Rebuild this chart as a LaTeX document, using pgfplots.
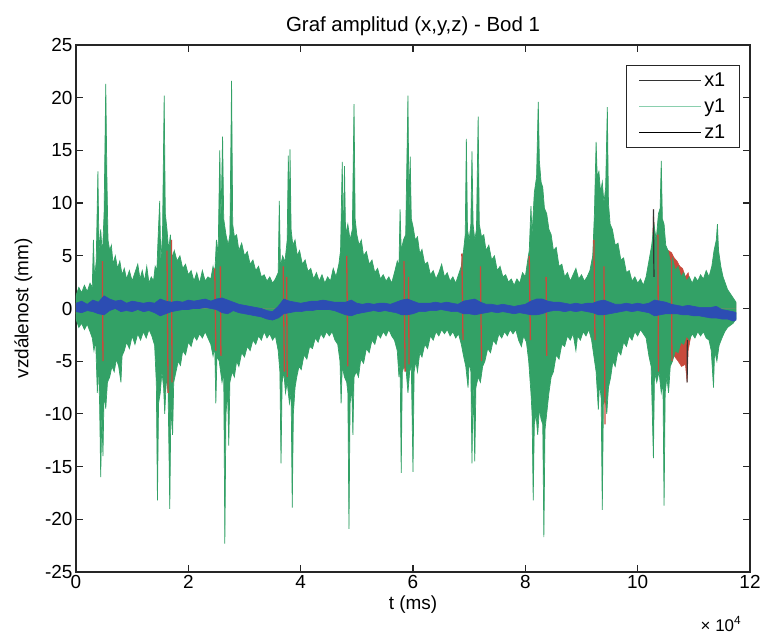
\documentclass[border=0pt]{standalone}
\usepackage{fontspec}
\setmainfont{Liberation Sans}
\usepackage{pgfplots}
\pgfplotsset{compat=1.18}
\definecolor{cg}{HTML}{33A166}
\definecolor{cr}{HTML}{C94A3C}
\definecolor{cb}{HTML}{2C4DB3}
\definecolor{cgl}{HTML}{8ACFAE}
\begin{document}
\begin{tikzpicture}
\begin{axis}[
  scale only axis, width=674bp, height=527bp,
  xmin=0, xmax=12, ymin=-25, ymax=25,
  xtick={0,2,...,12}, ytick={-25,-20,...,25},
  tick align=inside, major tick length=7bp,
  axis line style={line width=1.2bp, black!85},
  every tick/.style={black!85, line width=1.2bp},
  /pgf/number format/assume math mode=true,
  tick label style={font=\fontsize{19}{22}\selectfont},
  label style={font=\fontsize{19}{22}\selectfont},
  ylabel style={yshift=6bp},
  title style={font=\fontsize{20.5}{24}\selectfont},
  title={Graf amplitud (x,y,z) - Bod 1},
  xlabel={t (ms)}, ylabel={vzdálenost (mm)},
  legend style={at={(0.985,0.962)}, anchor=north east, font=\fontsize{20}{23}\selectfont, draw=black!85, line width=1.2bp, row sep=7bp, inner xsep=12bp, inner ysep=5bp},
  legend cell align=left,
  legend image code/.code={\draw[#1] (0bp,0bp) -- (62bp,0bp);},
  unbounded coords=jump,
]
\coordinate (sw) at (rel axis cs:0,0);
\coordinate (ne) at (rel axis cs:1,1);
\coordinate (se) at (rel axis cs:1,0);
% x1 (red), positive side
\addplot[draw=cr, fill=cr, line width=0.5bp, forget plot] coordinates {
(0,0)(0,0.5)(0.45,1.5)(0.48,5.0)(0.5,1.5)(1.0,1.0)(1.6,1.5)(1.63,6.0)(1.66,1.5)(2.45,1.5)(2.48,3.8)(2.51,1.5)(3.65,1.5)(3.7,4.0)(3.73,1.5)(4.8,1.5)(4.83,5.0)(4.86,1.5)(5.82,1.5)(5.85,4.5)(5.88,1.5)(6.85,1.5)(6.88,5.2)(6.91,1.5)(8.05,1.5)(8.08,5.0)(8.11,1.5)(9.2,1.5)(9.23,6.5)(9.26,1.5)(10.25,2.0)(10.28,9.4)(10.31,6.0)(10.35,7.0)(10.4,5.5)(10.45,6.0)(10.5,5.0)(10.55,5.5)(10.6,5.3)(10.65,4.8)(10.7,4.5)(10.75,4.0)(10.8,3.8)(10.85,3.0)(10.9,3.4)(10.95,2.0)(11.3,1.5)(11.33,3.5)(11.36,1.5)(11.75,0.5)(11.75,0)};
% x1 (red), negative side
\addplot[draw=cr, fill=cr, line width=0.5bp, forget plot] coordinates {
(0,0)(0,-0.5)(0.4,-1.5)(0.42,-5.0)(0.45,-1.5)(1.6,-1.5)(1.65,-8.0)(1.68,-1.5)(2.55,-1.5)(2.58,-4.5)(2.61,-1.5)(3.72,-1.5)(3.75,-6.5)(3.78,-1.5)(4.85,-1.5)(4.88,-5.5)(4.91,-1.5)(5.88,-1.5)(5.91,-6.0)(5.94,-1.5)(7.18,-1.5)(7.21,-5.0)(7.24,-1.5)(8.35,-1.5)(8.38,-4.5)(8.41,-1.5)(9.38,-1.5)(9.41,-9.0)(9.44,-1.5)(10.3,-2.0)(10.33,-6.5)(10.38,-5.5)(10.45,-6.0)(10.55,-5.0)(10.65,-4.5)(10.72,-5.0)(10.78,-5.5)(10.85,-5.3)(10.88,-7.0)(10.9,-4.0)(10.95,-2.5)(11.3,-1.5)(11.33,-4.5)(11.36,-1.5)(11.75,-0.5)(11.75,0)};
% y1 (green), positive side
\addplot[draw=cg, fill=cg, line width=0.7bp, forget plot] coordinates {
(0,0)(0,1.2)(0.05,2.0)(0.1,1.5)(0.15,2.2)(0.2,1.6)(0.25,2.4)(0.29,2.0)(0.31,6.5)(0.33,2.8)(0.36,4.5)(0.39,13)(0.41,5.5)(0.44,7.5)(0.47,5)(0.5,9)(0.53,21.3)(0.55,12.5)(0.57,6.5)(0.6,5.5)(0.63,6)(0.66,4.2)(0.7,5)(0.74,3.8)(0.78,4.5)(0.82,3.2)(0.86,3.8)(0.9,2.8)(0.95,3.6)(1,2.6)(1.05,3.4)(1.1,4.2)(1.14,2.8)(1.18,3.6)(1.22,2.6)(1.26,4)(1.3,2.4)(1.34,3)(1.38,2.6)(1.41,4)(1.44,3.6)(1.46,6.5)(1.49,10.2)(1.51,4.5)(1.54,7)(1.57,20.2)(1.59,9)(1.62,7.5)(1.65,5.5)(1.68,7)(1.71,4.8)(1.75,5.5)(1.8,4.5)(1.85,5)(1.9,3.8)(1.95,4.2)(2,3.2)(2.05,3.6)(2.1,2.6)(2.15,3.4)(2.2,2.4)(2.25,3.6)(2.3,2.6)(2.35,3)(2.4,2.8)(2.44,4)(2.47,3.2)(2.5,6.5)(2.53,5)(2.56,15)(2.58,8)(2.61,16.3)(2.63,8.5)(2.67,7)(2.71,6)(2.74,7)(2.77,21.6)(2.79,8)(2.82,6.8)(2.86,7)(2.9,5.5)(2.95,6.2)(3,5)(3.05,5.4)(3.1,4.2)(3.15,4.6)(3.2,3.6)(3.25,4)(3.3,3)(3.35,3.2)(3.4,2.6)(3.45,3)(3.5,2.4)(3.55,2.8)(3.6,3.4)(3.62,10.2)(3.64,4)(3.68,5)(3.72,4.4)(3.76,6.5)(3.78,14.5)(3.8,7)(3.81,15.1)(3.83,7.5)(3.86,6)(3.9,6.5)(3.94,5)(3.98,5.5)(4.03,4.2)(4.08,4.6)(4.13,3.5)(4.18,3.8)(4.23,2.8)(4.28,3.4)(4.33,2.6)(4.38,3.2)(4.43,2.4)(4.48,3)(4.53,2.6)(4.58,3.8)(4.63,3)(4.68,4.2)(4.71,5.5)(4.74,13.9)(4.76,6)(4.78,13.5)(4.8,7)(4.84,8)(4.88,6.5)(4.92,7.5)(4.95,19.4)(4.97,8.5)(5,7)(5.04,6)(5.08,6.5)(5.12,5)(5.17,5.4)(5.22,4.2)(5.27,4.6)(5.32,3.4)(5.37,3.8)(5.42,2.8)(5.47,3.2)(5.52,2.6)(5.57,3)(5.62,2.4)(5.67,3.4)(5.72,4.5)(5.75,4)(5.77,9.4)(5.79,5.5)(5.83,6.5)(5.87,7)(5.91,20.2)(5.93,9)(5.95,14.4)(5.97,8.5)(6,7.8)(6.04,6.5)(6.08,6.8)(6.12,5.2)(6.16,5.6)(6.21,4.2)(6.26,4.4)(6.31,3.2)(6.36,3.6)(6.41,2.8)(6.46,3.4)(6.51,4.2)(6.56,3)(6.61,3.4)(6.66,2.6)(6.71,3)(6.76,2.4)(6.81,3.2)(6.86,4)(6.9,5.5)(6.93,7)(6.95,16.1)(6.97,7.5)(7,6.5)(7.03,8)(7.05,14.9)(7.07,8)(7.1,6.5)(7.13,7.5)(7.16,18.2)(7.18,8)(7.22,6.8)(7.26,7)(7.3,5.5)(7.35,6)(7.4,4.6)(7.45,5)(7.5,3.6)(7.55,4)(7.6,3)(7.65,3.2)(7.7,2.5)(7.75,2.8)(7.8,2.2)(7.85,2.8)(7.9,2.4)(7.95,3.4)(8,3)(8.04,4.5)(8.07,5.5)(8.1,9.7)(8.12,7)(8.16,11)(8.2,12.5)(8.23,19.6)(8.25,14)(8.28,12)(8.31,11.5)(8.34,9.5)(8.38,9)(8.42,7.5)(8.46,7)(8.5,5.5)(8.55,5.8)(8.6,4)(8.65,4.2)(8.7,3)(8.75,3.4)(8.8,2.6)(8.85,3.2)(8.9,3.8)(8.95,2.8)(9,3.2)(9.05,2.6)(9.1,3)(9.15,3.6)(9.2,5)(9.23,9)(9.26,15.8)(9.28,12.5)(9.31,13)(9.34,11)(9.37,12)(9.4,10)(9.43,11.5)(9.46,19.1)(9.48,10)(9.51,8)(9.55,7.5)(9.6,6)(9.65,6.2)(9.7,4.6)(9.75,4.8)(9.8,3.4)(9.85,3.6)(9.9,2.6)(9.95,3)(10,2.4)(10.05,2.8)(10.1,2.2)(10.15,3)(10.2,4.5)(10.25,6)(10.29,8)(10.33,6.5)(10.37,9)(10.4,9.5)(10.42,14)(10.44,8.5)(10.47,8)(10.5,6)(10.54,5.5)(10.58,4.5)(10.62,4.8)(10.67,3.6)(10.72,4)(10.77,3)(10.82,3.4)(10.87,2.6)(10.92,3)(10.97,2.4)(11.02,3)(11.07,2.6)(11.12,3.2)(11.17,2.8)(11.22,3.6)(11.27,3)(11.32,4)(11.36,5.5)(11.4,6.5)(11.42,8)(11.44,5.5)(11.48,4)(11.52,3)(11.56,2.4)(11.6,1.8)(11.65,1.4)(11.7,1)(11.75,0.6)(11.75,0)};
% y1 (green), negative side
\addplot[draw=cg, fill=cg, line width=0.7bp, forget plot] coordinates {
(0,0)(0,-1)(0.05,-1.8)(0.1,-1.4)(0.15,-2)(0.2,-1.5)(0.25,-2.2)(0.29,-2.8)(0.32,-4)(0.35,-3)(0.38,-8)(0.4,-5)(0.42,-9)(0.44,-16)(0.46,-10)(0.48,-14)(0.5,-8)(0.53,-9.5)(0.56,-7)(0.6,-6.5)(0.64,-5.5)(0.68,-6)(0.72,-4.8)(0.76,-5.5)(0.8,-7)(0.82,-4.5)(0.86,-4)(0.9,-3.2)(0.95,-3.8)(1,-2.6)(1.05,-3.4)(1.1,-2.4)(1.15,-3)(1.2,-2.2)(1.25,-2.8)(1.3,-2)(1.35,-2.6)(1.4,-3.5)(1.43,-7)(1.45,-18.2)(1.47,-9)(1.5,-8)(1.53,-6)(1.56,-7.5)(1.58,-10)(1.61,-6.5)(1.64,-8)(1.67,-19)(1.69,-9)(1.72,-12)(1.74,-7)(1.78,-6)(1.82,-5)(1.86,-5.4)(1.9,-4)(1.95,-4.4)(2,-3.2)(2.05,-3.6)(2.1,-2.6)(2.15,-3)(2.2,-2.4)(2.25,-2.8)(2.3,-2.2)(2.35,-2.8)(2.4,-3.4)(2.44,-4.5)(2.47,-3.6)(2.49,-9)(2.51,-4.5)(2.55,-5)(2.6,-7)(2.63,-6)(2.65,-22.3)(2.67,-10)(2.7,-8)(2.72,-13)(2.74,-7)(2.78,-6)(2.82,-6.5)(2.86,-5)(2.9,-5.5)(2.95,-4.2)(3,-4.6)(3.05,-3.6)(3.1,-4)(3.15,-3)(3.2,-3.4)(3.25,-2.6)(3.3,-3)(3.35,-2.2)(3.4,-2.8)(3.45,-2.4)(3.5,-3)(3.55,-2.6)(3.6,-4)(3.63,-6)(3.65,-14.7)(3.67,-7)(3.7,-6)(3.73,-8)(3.76,-7)(3.8,-9)(3.83,-8)(3.85,-18.9)(3.87,-10)(3.9,-7.5)(3.93,-6.5)(3.97,-5.5)(4.01,-5.8)(4.06,-4.4)(4.11,-4.8)(4.16,-3.6)(4.21,-3.8)(4.26,-2.8)(4.31,-3.2)(4.36,-2.4)(4.41,-2.8)(4.46,-2.2)(4.51,-2.6)(4.56,-2.2)(4.61,-3)(4.66,-3.4)(4.7,-5)(4.72,-9)(4.74,-5.5)(4.78,-6.5)(4.82,-7)(4.84,-8)(4.86,-20.9)(4.88,-9)(4.91,-7.5)(4.93,-12)(4.95,-6.5)(4.99,-6)(5.03,-6.5)(5.07,-4.8)(5.12,-5.2)(5.17,-3.8)(5.22,-4.2)(5.27,-3)(5.32,-3.4)(5.37,-2.4)(5.42,-2.8)(5.47,-2.2)(5.52,-2.6)(5.57,-2)(5.62,-2.6)(5.67,-3)(5.72,-4)(5.75,-6.5)(5.77,-5)(5.79,-15.6)(5.81,-6)(5.84,-5.5)(5.88,-6)(5.91,-8)(5.94,-6)(5.97,-5.5)(6,-15.5)(6.02,-6)(6.05,-5)(6.08,-6)(6.12,-4.2)(6.16,-4.6)(6.21,-3.4)(6.26,-3.8)(6.31,-2.6)(6.36,-3)(6.41,-2.2)(6.46,-2.6)(6.51,-2)(6.56,-2.4)(6.61,-2)(6.66,-2.6)(6.71,-2.2)(6.76,-2.8)(6.81,-2.4)(6.86,-3.4)(6.9,-4.5)(6.94,-5.5)(6.98,-7.5)(7,-5)(7.03,-6)(7.05,-14.7)(7.07,-7)(7.1,-14.5)(7.12,-7.5)(7.16,-6.5)(7.2,-7)(7.24,-5.5)(7.28,-5)(7.33,-3.8)(7.38,-4.2)(7.43,-3)(7.48,-3.4)(7.53,-2.4)(7.58,-2.8)(7.63,-2.2)(7.68,-2.6)(7.73,-2)(7.78,-2.4)(7.83,-2)(7.88,-3)(7.93,-3.6)(7.97,-2.6)(8.02,-3.2)(8.06,-5)(8.1,-8)(8.12,-10)(8.14,-18.2)(8.16,-11)(8.19,-10)(8.22,-12)(8.25,-9.5)(8.28,-10.5)(8.31,-11)(8.33,-21.7)(8.35,-11.5)(8.38,-10)(8.42,-8)(8.46,-6.5)(8.5,-6)(8.55,-4.4)(8.6,-4.8)(8.65,-3.4)(8.7,-3.6)(8.75,-2.6)(8.8,-3)(8.85,-2.4)(8.9,-4)(8.93,-2.6)(8.98,-3)(9.03,-2.2)(9.08,-2.6)(9.13,-2)(9.18,-3)(9.22,-4.5)(9.26,-6)(9.3,-9.6)(9.32,-7)(9.35,-8.5)(9.37,-19.1)(9.39,-9)(9.42,-8.5)(9.45,-10)(9.48,-7.5)(9.52,-6.5)(9.56,-5)(9.6,-5.5)(9.65,-4)(9.7,-4.4)(9.75,-3.2)(9.8,-3.6)(9.85,-2.6)(9.9,-3)(9.95,-2.2)(10,-2.6)(10.05,-2)(10.1,-2.4)(10.15,-2.8)(10.2,-4.5)(10.24,-5.5)(10.28,-14.2)(10.3,-6)(10.34,-7)(10.38,-6)(10.42,-8)(10.45,-7)(10.47,-18.7)(10.49,-8)(10.52,-6.5)(10.55,-8)(10.58,-5.5)(10.62,-5)(10.67,-4)(10.72,-4.2)(10.77,-3.2)(10.82,-3.4)(10.87,-2.6)(10.92,-3)(10.97,-2.4)(11.02,-2.8)(11.07,-2.2)(11.12,-2.6)(11.17,-2.2)(11.22,-2.8)(11.27,-3)(11.31,-4)(11.35,-7.5)(11.37,-4)(11.41,-5)(11.45,-3.5)(11.5,-2.8)(11.55,-2.2)(11.6,-1.8)(11.65,-1.6)(11.7,-1.4)(11.75,-1)(11.75,0)};
% x1 (red) streaks showing through the green bursts
\addplot[draw=cr, line width=1.3bp, forget plot] coordinates {
(0.47,4.5)(0.48,-5)(nan,nan)(1.62,5.5)(1.64,-8)(nan,nan)(1.7,6.5)(1.71,-7)(nan,nan)(2.47,3.8)(2.49,-4)(nan,nan)(2.57,4)(2.58,-4.5)(nan,nan)(3.69,4)(3.71,-6)(nan,nan)(3.75,3)(3.76,-6.5)(nan,nan)(4.82,5)(4.84,-5.5)(nan,nan)(5.84,4.5)(5.86,-6)(nan,nan)(5.92,3)(5.93,-5.3)(nan,nan)(6.87,5.2)(6.89,-3)(nan,nan)(7.2,4)(7.22,-5)(nan,nan)(8.07,5)(8.09,-3)(nan,nan)(8.37,3)(8.38,-4.5)(nan,nan)(9.22,6.5)(9.24,-3)(nan,nan)(9.4,4)(9.42,-11)(nan,nan)(10.36,7)(10.37,-6)(nan,nan)(10.6,5.3)(10.61,-5)};
% x1 dark spikes
\addplot[draw=black!80, line width=1.2bp, forget plot] coordinates {
(10.28,9.4)(10.29,3)(nan,nan)(10.88,-7)(10.885,-3)};
% z1 (blue): upper edge forward, lower edge back
\addplot[draw=cb, fill=cb, line width=0.6bp, forget plot] coordinates {
(0,0.5)(0.1,0.7)(0.2,0.4)(0.3,0.8)(0.4,0.6)(0.5,1.2)(0.6,0.9)(0.7,0.7)(0.8,0.8)(0.9,0.5)(1,0.7)(1.1,0.6)(1.2,0.5)(1.3,0.6)(1.4,0.5)(1.5,0.9)(1.6,0.7)(1.7,0.6)(1.8,0.7)(1.9,0.6)(2,0.8)(2.1,0.7)(2.2,0.8)(2.3,0.9)(2.4,0.7)(2.5,0.9)(2.6,1)(2.7,0.8)(2.8,0.6)(2.9,0.4)(3,0.3)(3.1,0.2)(3.2,0.1)(3.3,0)(3.4,-0.2)(3.5,-0.3)(3.6,0.2)(3.7,0.9)(3.8,0.7)(3.9,0.6)(4,0.5)(4.1,0.6)(4.2,0.7)(4.3,0.7)(4.4,0.8)(4.5,0.7)(4.6,0.6)(4.7,0.6)(4.8,0.6)(4.9,0.8)(5,0.5)(5.1,0.4)(5.2,0.5)(5.3,0.4)(5.4,0.5)(5.5,0.5)(5.6,0.4)(5.7,0.6)(5.8,0.8)(5.9,0.9)(6,0.7)(6.1,0.5)(6.2,0.5)(6.3,0.5)(6.4,0.6)(6.5,0.5)(6.6,0.6)(6.7,0.5)(6.8,0.4)(6.9,0.7)(7,0.8)(7.1,0.9)(7.2,0.6)(7.3,0.4)(7.4,0.4)(7.5,0.3)(7.6,0.4)(7.7,0.3)(7.8,0.2)(7.9,0.3)(8,0.4)(8.1,0.7)(8.2,0.9)(8.3,0.9)(8.4,0.7)(8.5,0.6)(8.6,0.6)(8.7,0.5)(8.8,0.4)(8.9,0.5)(9,0.4)(9.1,0.5)(9.2,0.5)(9.3,0.7)(9.4,0.8)(9.5,0.6)(9.6,0.4)(9.7,0.4)(9.8,0.5)(9.9,0.4)(10,0.5)(10.1,0.4)(10.2,0.5)(10.3,0.8)(10.4,0.7)(10.5,0.6)(10.6,0.4)(10.7,0.3)(10.8,0.2)(10.9,0.3)(11,0.2)(11.1,0.1)(11.2,0.1)(11.3,0.1)(11.4,0.2)(11.5,-0.1)(11.6,-0.2)(11.7,-0.3)(11.75,-0.4)
(11.75,-1.1)(11.7,-1.2)(11.6,-1)(11.5,-1)(11.4,-0.9)(11.3,-0.9)(11.2,-0.8)(11.1,-0.7)(11,-0.7)(10.9,-0.6)(10.8,-0.6)(10.7,-0.5)(10.6,-0.5)(10.5,-0.5)(10.4,-0.6)(10.3,-0.7)(10.2,-0.4)(10.1,-0.3)(10,-0.2)(9.9,-0.3)(9.8,-0.2)(9.7,-0.3)(9.6,-0.4)(9.5,-0.5)(9.4,-0.6)(9.3,-0.6)(9.2,-0.4)(9.1,-0.3)(9,-0.2)(8.9,-0.3)(8.8,-0.2)(8.7,-0.3)(8.6,-0.2)(8.5,-0.2)(8.4,-0.3)(8.3,-0.5)(8.2,-0.6)(8.1,-0.6)(8,-0.5)(7.9,-0.4)(7.8,-0.5)(7.7,-0.4)(7.6,-0.3)(7.5,-0.4)(7.4,-0.3)(7.3,-0.4)(7.2,-0.5)(7.1,-0.6)(7,-0.5)(6.9,-0.5)(6.8,-0.3)(6.7,-0.3)(6.6,-0.2)(6.5,-0.1)(6.4,-0.2)(6.3,-0.2)(6.2,-0.3)(6.1,-0.3)(6,-0.5)(5.9,-0.6)(5.8,-0.6)(5.7,-0.4)(5.6,-0.3)(5.5,-0.2)(5.4,-0.3)(5.3,-0.2)(5.2,-0.3)(5.1,-0.4)(5,-0.5)(4.9,-0.7)(4.8,-0.6)(4.7,-0.4)(4.6,-0.2)(4.5,-0.1)(4.4,-0.1)(4.3,-0.1)(4.2,-0.2)(4.1,-0.2)(4,-0.3)(3.9,-0.3)(3.8,-0.4)(3.7,-0.5)(3.6,-0.9)(3.5,-1.1)(3.4,-1)(3.3,-0.8)(3.2,-0.7)(3.1,-0.6)(3,-0.5)(2.9,-0.4)(2.8,-0.2)(2.7,-0.5)(2.6,-0.4)(2.5,-0.1)(2.4,0)(2.3,0.1)(2.2,0)(2.1,0)(2,-0.1)(1.9,-0.1)(1.8,-0.2)(1.7,-0.3)(1.6,-0.5)(1.5,-0.7)(1.4,-0.4)(1.3,-0.2)(1.2,-0.3)(1.1,-0.1)(1,-0.3)(0.9,-0.2)(0.8,-0.3)(0.7,0)(0.6,-0.2)(0.5,-0.6)(0.4,-0.5)(0.3,-0.3)(0.2,-0.2)(0.1,-0.4)(0,-0.3)};
\addlegendimage{black!80, line width=1.2bp}
\addlegendentry{x1}
\addlegendimage{cgl, line width=1.6bp}
\addlegendentry{y1}
\addlegendimage{black, line width=1.2bp}
\addlegendentry{z1}
\end{axis}
\node[font=\fontsize{17}{20}\selectfont] at ([xshift=-29bp,yshift=-52bp]se) {× 10\textsuperscript{4}};
\pgfresetboundingbox
\path[use as bounding box] ([xshift=-76bp,yshift=-64bp]sw) rectangle ([xshift=11bp,yshift=45bp]ne);
\end{tikzpicture}
\end{document}
